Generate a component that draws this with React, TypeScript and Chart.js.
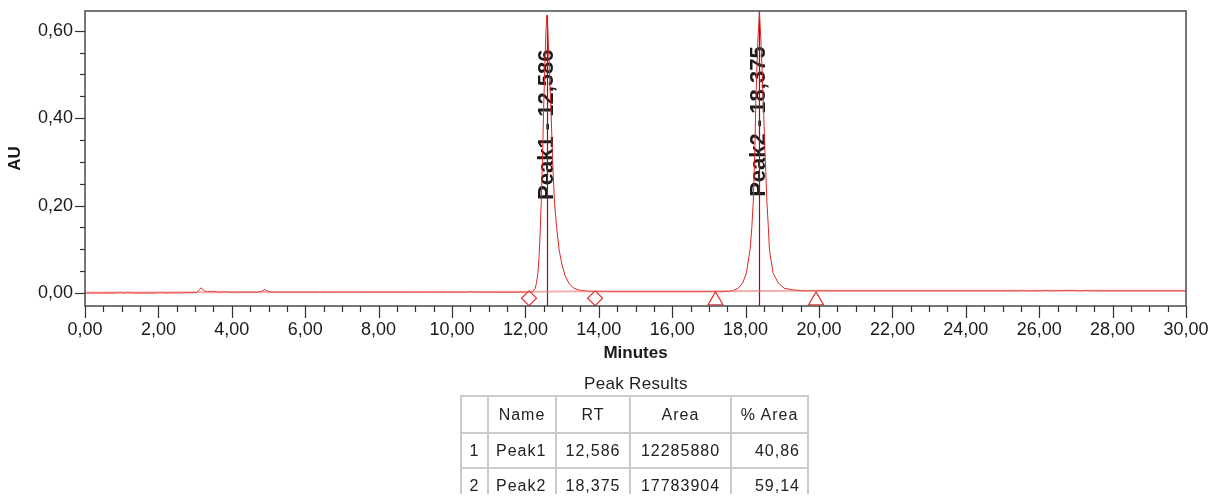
import React, { useEffect, useRef } from "react";
import { Chart, registerables } from "chart.js";

Chart.register(...registerables);

const FONT = '"Liberation Sans", Arial, sans-serif';

// Detector trace: retention time (min) and absorbance (AU)
const traceTime = [
  0, 0.85, 0.95, 1.05, 1.15, 1.3, 1.45, 1.95, 2.05, 2.15,
  3.05, 3.12, 3.17, 3.24, 3.32, 3.45, 3.58, 3.7, 3.8, 3.9,
  4.05, 4.7, 4.82, 4.9, 4.98, 5.1, 7.0, 10.4, 10.5, 10.6,
  12.0,
  // Peak1
  12.2, 12.26, 12.3, 12.34, 12.37, 12.4, 12.43, 12.46, 12.5, 12.53,
  12.56, 12.586, 12.61, 12.64, 12.67, 12.7, 12.74, 12.79, 12.85, 12.92,
  13.0, 13.08, 13.18, 13.3, 13.45, 13.7, 14.0,
  15.0, 16.5,
  // Peak2
  17.4, 17.65, 17.8, 17.92, 18.02, 18.12, 18.17, 18.21, 18.25, 18.28,
  18.33, 18.375, 18.42, 18.48, 18.53, 18.58, 18.62, 18.65, 18.75, 18.89,
  19.05, 19.3, 19.6, 19.9,
  25.5, 25.55, 25.6, 26.1, 26.15, 26.3, 26.9, 27.1, 27.3, 27.4,
  30.0,
];
const traceAU = [
  0.0, 0.0, 0.001, 0.0, 0.001, 0.0, 0.0, 0.0, 0.001, 0.0,
  0.001, 0.008, 0.012, 0.005, 0.003, 0.004, 0.003, 0.002, 0.003, 0.002,
  0.002, 0.002, 0.004, 0.008, 0.004, 0.002, 0.002, 0.002, 0.003, 0.002,
  0.002,
  0.003, 0.01, 0.022, 0.045, 0.08, 0.135, 0.205, 0.29, 0.43, 0.525,
  0.6, 0.635, 0.605, 0.54, 0.475, 0.415, 0.305, 0.21, 0.15, 0.098,
  0.064, 0.04, 0.023, 0.012, 0.007, 0.004, 0.003,
  0.003, 0.003,
  0.003, 0.005, 0.011, 0.023, 0.045, 0.098, 0.15, 0.21, 0.32, 0.44,
  0.57, 0.642, 0.575, 0.44, 0.32, 0.21, 0.15, 0.098, 0.045, 0.023,
  0.011, 0.007, 0.005, 0.005,
  0.005, 0.006, 0.005, 0.005, 0.006, 0.005, 0.006, 0.005, 0.006, 0.005,
  0.005,
];

// Integration baseline
const baselineTime = [0, 12.1, 13.9, 17.2, 19.9, 30];
const baselineAU = [0.001, 0.003, 0.004, 0.004, 0.005, 0.005];

// Peak start / end markers
const markerTime = [12.1, 13.9, 17.18, 19.92];
const markerAU = [-0.012, -0.012, -0.017, -0.017];
const markerStyle = ["rectRot", "rectRot", "triangle", "triangle"];
const markerSize = [7.5, 7.5, 8.6, 8.6];

// Peaks
const peakNames = ["Peak1", "Peak2"];
const peakRT = [12.586, 18.375];
const peakApexAU = [0.635, 0.645];
const peakLabelAU = [0.213, 0.22];
const peakArea = [12285880, 17783904];
const peakPctArea = [40.86, 59.14];

// Axes
const xRange = [0, 30];
const yRange = [-0.0297, 0.645];
const xMajorTicks = [0, 2, 4, 6, 8, 10, 12, 14, 16, 18, 20, 22, 24, 26, 28, 30];
const yMajorTicks = [0, 0.2, 0.4, 0.6];
const xMinorStep = 0.5;
const yMinorStep = 0.05;

const tableHeaders = ["", "Name", "RT", "Area", "% Area"];

const fmt = (v: number, d: number) => v.toFixed(d).replace(".", ",");

const toPoints = (xs: number[], ys: number[]) => xs.map((x, i) => ({ x, y: ys[i] }));

const isMajor = (v: number, majors: number[]) => majors.some((m) => Math.abs(m - v) < 1e-6);

const noScalePadding = (s: any) => {
  s.paddingTop = 0;
  s.paddingBottom = 0;
  s.paddingLeft = 0;
  s.paddingRight = 0;
};

const chromPlugin = {
  id: "chromAnnotations",
  beforeDatasetsDraw(chart: any) {
    const { ctx, chartArea, scales } = chart;
    const { x, y } = scales;
    ctx.save();
    // peak name labels
    ctx.fillStyle = "#1a1a1a";
    ctx.font = `bold 22px ${FONT}`;
    ctx.textAlign = "left";
    ctx.textBaseline = "middle";
    peakRT.forEach((rt, i) => {
      ctx.save();
      ctx.translate(x.getPixelForValue(rt), y.getPixelForValue(peakLabelAU[i]));
      ctx.rotate(-Math.PI / 2);
      ctx.fillText(`${peakNames[i]} - ${fmt(rt, 3)}`, 0, 0);
      ctx.restore();
    });
    // retention time lines
    ctx.strokeStyle = "#8e1616";
    ctx.lineWidth = 1.2;
    peakRT.forEach((rt, i) => {
      const px = Math.round(x.getPixelForValue(rt)) + 0.5;
      ctx.beginPath();
      ctx.moveTo(px, Math.max(chartArea.top, y.getPixelForValue(peakApexAU[i])));
      ctx.lineTo(px, chartArea.bottom);
      ctx.stroke();
    });
    ctx.restore();
  },
  afterDraw(chart: any) {
    const { ctx, chartArea, scales } = chart;
    const { left, right, top, bottom } = chartArea;
    const { x, y } = scales;
    ctx.save();
    ctx.strokeStyle = "#4a4a4a";
    ctx.lineWidth = 1.5;
    ctx.strokeRect(left, top, right - left, bottom - top);

    ctx.strokeStyle = "#333";
    ctx.lineWidth = 1.2;
    const nx = Math.round((xRange[1] - xRange[0]) / xMinorStep);
    for (let i = 0; i <= nx; i++) {
      const v = xRange[0] + i * xMinorStep;
      const px = Math.round(x.getPixelForValue(v)) + 0.5;
      const len = isMajor(v, xMajorTicks) ? 12 : 6;
      ctx.beginPath();
      ctx.moveTo(px, bottom);
      ctx.lineTo(px, bottom + len);
      ctx.stroke();
    }
    const ny = Math.floor(yRange[1] / yMinorStep + 1e-6);
    for (let i = 0; i <= ny; i++) {
      const v = i * yMinorStep;
      const py = Math.round(y.getPixelForValue(v)) + 0.5;
      const len = isMajor(v, yMajorTicks) ? 10 : 5;
      ctx.beginPath();
      ctx.moveTo(left - len, py);
      ctx.lineTo(left, py);
      ctx.stroke();
    }
    ctx.restore();
  },
};

function Chromatogram() {
  const canvasRef = useRef<HTMLCanvasElement>(null);

  useEffect(() => {
    if (!canvasRef.current) return;
    const chart = new Chart(canvasRef.current, {
      type: "line",
      data: {
        datasets: [
          {
            label: "Baseline",
            data: toPoints(baselineTime, baselineAU),
            borderColor: "rgba(236, 110, 110, 0.55)",
            borderWidth: 2,
            pointRadius: 0,
            tension: 0,
          },
          {
            label: "Signal",
            data: toPoints(traceTime, traceAU),
            borderColor: "#e02424",
            borderWidth: 1,
            pointRadius: 0,
            tension: 0,
          },
          {
            label: "Peak limits",
            data: toPoints(markerTime, markerAU),
            showLine: false,
            pointStyle: markerStyle as any,
            pointRadius: markerSize,
            pointBorderColor: "#e03434",
            pointBackgroundColor: "rgba(255,255,255,0)",
            pointBorderWidth: 1.2,
            clip: false as any,
          },
        ],
      },
      options: {
        animation: false,
        responsive: false,
        maintainAspectRatio: false,
        layout: { autoPadding: false, padding: { left: 0, top: 3, right: 24, bottom: 6 } },
        plugins: {
          legend: { display: false },
          tooltip: { enabled: false },
        },
        scales: {
          x: {
            type: "linear",
            min: xRange[0],
            max: xRange[1],
            grid: { display: false, drawTicks: false },
            border: { display: false },
            afterBuildTicks: (s: any) => {
              s.ticks = xMajorTicks.map((v) => ({ value: v }));
            },
            afterFit: (s: any) => {
              s.height = 66;
              noScalePadding(s);
            },
            ticks: {
              padding: 13,
              autoSkip: false,
              maxRotation: 0,
              color: "#1a1a1a",
              font: { family: FONT, size: 18 },
              callback: (v: any) => fmt(Number(v), 2),
            },
            title: {
              display: true,
              text: "Minutes",
              color: "#1a1a1a",
              font: { family: FONT, size: 17, weight: "bold" },
              padding: { top: 0, bottom: 8 },
            },
          },
          y: {
            type: "linear",
            min: yRange[0],
            max: yRange[1],
            grid: { display: false, drawTicks: false },
            border: { display: false },
            afterBuildTicks: (s: any) => {
              s.ticks = yMajorTicks.map((v) => ({ value: v }));
            },
            afterFit: (s: any) => {
              s.width = 77;
              noScalePadding(s);
            },
            ticks: {
              padding: 12,
              color: "#1a1a1a",
              font: { family: FONT, size: 18 },
              callback: (v: any) => fmt(Number(v), 2),
            },
            title: {
              display: true,
              text: "AU",
              color: "#1a1a1a",
              font: { family: FONT, size: 17, weight: "bold", lineHeight: 0.9 },
              padding: 0,
            },
          },
        },
      },
      plugins: [chromPlugin],
    });
    return () => chart.destroy();
  }, []);

  return (
    <canvas
      ref={canvasRef}
      width={1202}
      height={370}
      style={{ position: "absolute", left: 0, top: 0, width: 1202, height: 370 }}
    />
  );
}

const colWidths = [27, 68, 74, 101, 77];
const rowHeights = [37, 35, 35];
const border = "2px solid #cbcbcb";

function ResultsTable() {
  const cell = (content: React.ReactNode, col: number, row: number, align: "left" | "center" | "right") => (
    <td
      key={col}
      style={{
        boxSizing: "border-box",
        width: colWidths[col],
        height: rowHeights[row],
        padding: "0 7px",
        borderRight: border,
        borderBottom: border,
        textAlign: align,
        whiteSpace: "nowrap",
      }}
    >
      {content}
    </td>
  );
  return (
    <>
      <div
        style={{
          position: "absolute",
          left: 478,
          top: 366,
          width: 300,
          textAlign: "center",
          fontSize: 17,
          lineHeight: "20px",
          letterSpacing: 0.3,
          color: "#222",
        }}
      >
        Peak Results
      </div>
      <table
        style={{
          position: "absolute",
          left: 452,
          top: 387,
          borderCollapse: "separate",
          borderSpacing: 0,
          tableLayout: "fixed",
          borderLeft: border,
          borderTop: border,
          fontSize: 16,
          letterSpacing: 1,
          color: "#222",
          fontFamily: FONT,
        }}
      >
        <tbody>
          <tr>{tableHeaders.map((h, c) => cell(h, c, 0, "center"))}</tr>
          {peakNames.map((name, r) => (
            <tr key={name}>
              {cell(String(r + 1), 0, r + 1, "center")}
              {cell(name, 1, r + 1, "left")}
              {cell(fmt(peakRT[r], 3), 2, r + 1, "center")}
              {cell(String(peakArea[r]), 3, r + 1, "center")}
              {cell(fmt(peakPctArea[r], 2), 4, r + 1, "right")}
            </tr>
          ))}
        </tbody>
      </table>
    </>
  );
}

export default function App() {
  return (
    <div
      style={{
        position: "relative",
        width: 1202,
        height: 494,
        marginBottom: -8,
        overflow: "hidden",
        fontFamily: FONT,
        background: "#fff",
      }}
    >
      <Chromatogram />
      <ResultsTable />
    </div>
  );
}
